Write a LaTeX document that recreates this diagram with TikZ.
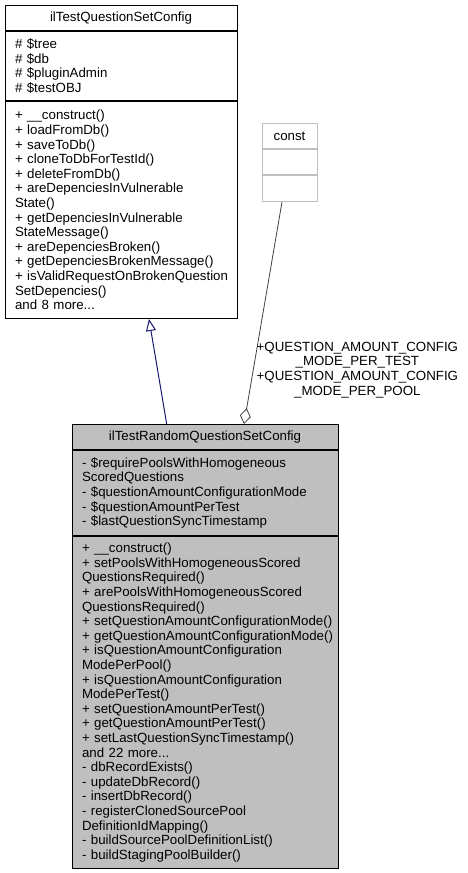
\documentclass[tikz,border=0pt]{standalone}
\usepackage{fontspec}
\setmainfont{Liberation Sans}
\usetikzlibrary{positioning,arrows.meta}
\definecolor{edgeblue}{HTML}{191970}
\definecolor{edgegray}{HTML}{404040}
\definecolor{boxgray}{HTML}{BFBFBF}
\begin{document}
\begin{tikzpicture}[
  x=1pt, y=-1pt,
  font=\fontsize{13.3}{14.6}\selectfont,
  classtitle/.style={rectangle, draw, line width=1pt, minimum height=25pt, inner sep=0pt, anchor=north},
  members/.style={rectangle, draw, line width=1pt, align=left, inner xsep=10pt, inner ysep=0pt,
    execute at begin node={\hyphenpenalty=10000\exhyphenpenalty=10000}},
  inherit/.style={edgeblue, line width=1pt, -{Triangle[open, length=12pt, width=10pt]}},
  aggr/.style={edgegray, line width=0.8pt, -{Diamond[open, length=16pt, width=11pt]}}
]
\useasboundingbox (0,0) rectangle (468,873);

% Base class
\node[classtitle, minimum width=232pt] (qstitle) at (121,5) {ilTestQuestionSetConfig};
\node[members, below=0pt of qstitle, text width=212pt, minimum height=69pt] (qsattr)
  {\# \$tree\\\# \$db\\\# \$pluginAdmin\\\# \$testOBJ};
\node[members, below=0pt of qsattr, text width=212pt, minimum height=217pt] (qsmethods)
  {+ \_\_construct()\\+ loadFromDb()\\+ saveToDb()\\+ cloneToDbForTestId()\\+ deleteFromDb()\\
   + areDepenciesInVulnerable\\State()\\+ getDepenciesInVulnerable\\StateMessage()\\
   + areDepenciesBroken()\\+ getDepenciesBrokenMessage()\\+~isValidRequestOnBrokenQuestion\\
   SetDepencies()\\and 8 more...};

% Constants
\node[classtitle, draw=boxgray, minimum width=55pt] (consttitle) at (289.5,123) {const};
\node[classtitle, draw=boxgray, minimum width=55pt, below=0pt of consttitle] (constattr) {};
\node[classtitle, draw=boxgray, minimum width=55pt, minimum height=26pt, below=0pt of constattr] (constops) {};

% Derived class
\node[classtitle, fill=boxgray, minimum width=266pt] (rqtitle) at (205,424) {ilTestRandomQuestionSetConfig};
\node[members, fill=boxgray, below=0pt of rqtitle, text width=246pt, minimum height=85pt] (rqattr)
  {- \$requirePoolsWithHomogeneous\\ScoredQuestions\\-~\$questionAmountConfigurationMode\\
   - \$questionAmountPerTest\\- \$lastQuestionSyncTimestamp};
\node[members, fill=boxgray, below=0pt of rqattr, text width=246pt, minimum height=332pt] (rqmethods)
  {+ \_\_construct()\\+ setPoolsWithHomogeneousScored\\QuestionsRequired()\\
   + arePoolsWithHomogeneousScored\\QuestionsRequired()\\
   +~setQuestionAmountConfigurationMode()\\+~getQuestionAmountConfigurationMode()\\
   + isQuestionAmountConfiguration\\ModePerPool()\\+ isQuestionAmountConfiguration\\ModePerTest()\\
   + setQuestionAmountPerTest()\\+ getQuestionAmountPerTest()\\+ setLastQuestionSyncTimestamp()\\
   and 22 more...\\- dbRecordExists()\\- updateDbRecord()\\- insertDbRecord()\\
   - registerClonedSourcePool\\DefinitionIdMapping()\\- buildSourcePoolDefinitionList()\\
   - buildStagingPoolBuilder()};

% Relations
\draw[inherit] ([xshift=-38.3pt]rqtitle.north) -- ([xshift=28pt]qsmethods.south);
\draw[aggr] ([xshift=-7.5pt]constops.south) --
  node[pos=0.756, anchor=west, align=center, inner sep=3pt, text=black]
  {+QUESTION\_AMOUNT\_CONFIG\\\_MODE\_PER\_TEST\\+QUESTION\_AMOUNT\_CONFIG\\\_MODE\_PER\_POOL}
  ([xshift=39pt]rqtitle.north);
\end{tikzpicture}
\end{document}
